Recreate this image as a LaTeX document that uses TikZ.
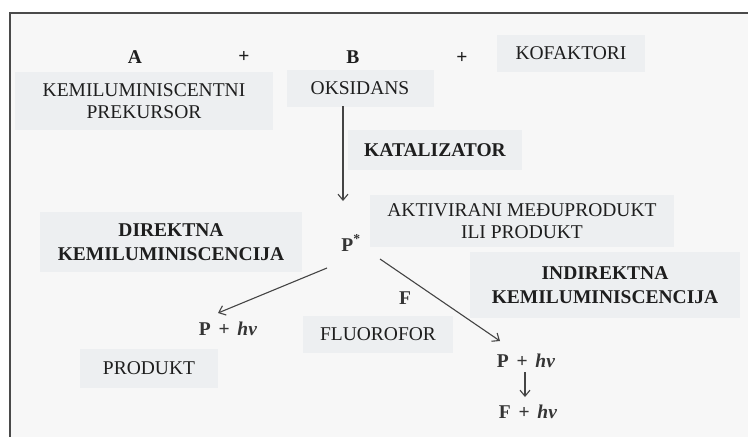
\documentclass[tikz,border=0pt]{standalone}
\usepackage{fontspec}
\setmainfont{Liberation Serif}
\usetikzlibrary{arrows.meta}
\definecolor{bgin}{HTML}{F7F7F7}
\definecolor{boxg}{HTML}{EDEFF1}
\definecolor{txt}{HTML}{1E1E1E}
\definecolor{ftxt}{HTML}{353535}
\definecolor{frame}{HTML}{4A4A4A}
\definecolor{arr}{HTML}{444444}
\newcommand{\hvsp}{\hspace{0.4em}}
\begin{document}
\begin{tikzpicture}[x=1pt,y=-1pt,
  box/.style={fill=boxg,inner sep=0pt,align=center,text=txt,font=\fontsize{19.5}{22}\selectfont},
  bbox/.style={box,font=\fontsize{19.5}{24}\selectfont\bfseries},
  lbl/.style={inner sep=1pt,text=txt,font=\fontsize{19.5}{22}\selectfont\bfseries},
  flbl/.style={lbl,text=ftxt},
  arrow/.style={draw=arr,line width=1.1pt,-{Straight Barb[length=6pt,width=10pt,line width=1.1pt]}}]
\useasboundingbox (0,0) rectangle (748,437);
\fill[white] (0,0) rectangle (748,437);
\fill[bgin] (10,13) rectangle (748,437);
\draw[frame,line width=2.2pt] (10,437) -- (10,13) -- (748,13);
% boxes
\node[box,minimum width=148pt,minimum height=37pt] (kof) at (571,53) {KOFAKTORI};
\node[box,minimum width=258pt,minimum height=58pt] (prek) at (144,101) {KEMILUMINISCENTNI\\PREKURSOR};
\node[box,minimum width=147pt,minimum height=37pt] (oks) at (360,88) {OKSIDANS};
\node[bbox,minimum width=174pt,minimum height=40pt] (kat) at (435,150) {KATALIZATOR};
\node[box,minimum width=304pt,minimum height=52pt] (akt) at (522,221) {AKTIVIRANI MEĐUPRODUKT\\ILI PRODUKT};
\node[bbox,minimum width=262pt,minimum height=60pt] (dir) at (171,242) {DIREKTNA\\KEMILUMINISCENCIJA};
\node[bbox,minimum width=270pt,minimum height=66pt] (ind) at (605,285) {INDIREKTNA\\KEMILUMINISCENCIJA};
\node[box,minimum width=150pt,minimum height=37pt] (flu) at (378,334) {FLUOROFOR};
\node[box,minimum width=138pt,minimum height=39pt] (prod) at (149,368) {PRODUKT};
% labels
\node[lbl] (a) at (135,57) {A};
\node[lbl] (plus1) at (244,57) {+};
\node[lbl] (b) at (353,57) {B};
\node[lbl] (plus2) at (462,58) {+};
\node[flbl] (pstar) at (351,243) {P\textsuperscript{*}};
\node[flbl] (f) at (405,298) {F};
\node[flbl] (php1) at (228,329) {P\hvsp+\hvsp\textit{hν}};
\node[flbl] (php2) at (526,361) {P\hvsp+\hvsp\textit{hν}};
\node[flbl] (fhv) at (528,412) {F\hvsp+\hvsp\textit{hν}};
% connectors
\coordinate (s1) at (343,106);
\coordinate (e1) at (343,201);
\coordinate (s2) at (327,268);
\coordinate (e2) at (218,313);
\coordinate (s3) at (380,259);
\coordinate (e3) at (500,341);
\coordinate (s4) at (525,372);
\coordinate (e4) at (525,397);
\draw[arrow] (s1) -- (e1);
\draw[arrow] (s2) -- (e2);
\draw[arrow] (s3) -- (e3);
\draw[arrow] (s4) -- (e4);
\end{tikzpicture}
\end{document}
